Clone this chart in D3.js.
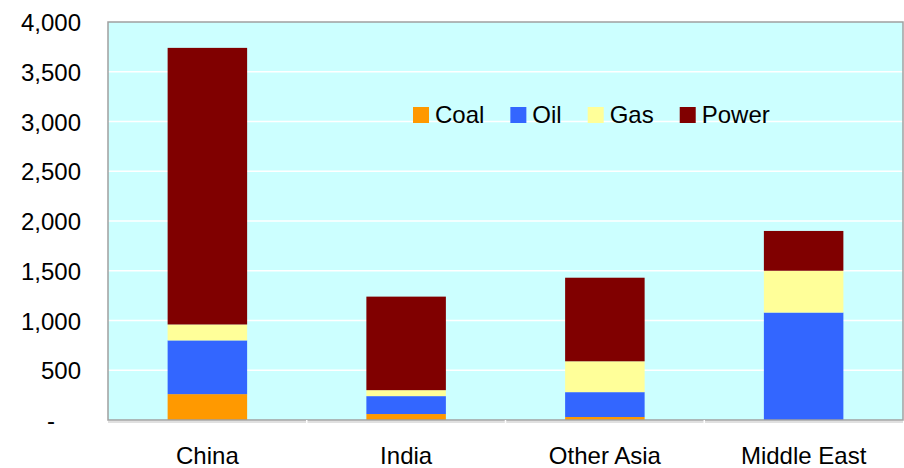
<!DOCTYPE html>
<html>
<head>
<meta charset="utf-8">
<script src="https://cdn.jsdelivr.net/npm/d3@7"></script>
<style>
  body { margin: 0; background: #fff; }
  text { font-family: Arial, "Liberation Sans", sans-serif; fill: #000; }
</style>
</head>
<body>
<div id="chart"></div>
<script>
// data
var regions = ["China", "India", "Other Asia", "Middle East"];
var fuels = ["Coal", "Oil", "Gas", "Power"];
var coal = [260, 60, 30, 0];
var oil = [540, 180, 250, 1080];
var gas = [160, 60, 310, 420];
var power = [2780, 940, 840, 400];
var yTicks = [0, 500, 1000, 1500, 2000, 2500, 3000, 3500, 4000];
var colors = ["#FF9900", "#3366FF", "#FFFF99", "#800000"];

var rows = regions.map(function (r, i) {
  return { region: r, Coal: coal[i], Oil: oil[i], Gas: gas[i], Power: power[i] };
});

// dimensions
var W = 904, H = 468;
var margin = { top: 22, right: 1, bottom: 48, left: 108 };
var width = W - margin.left - margin.right;
var height = H - margin.top - margin.bottom;

var svg = d3.select("#chart")
  .append("svg")
    .attr("width", W)
    .attr("height", H);

var g = svg.append("g")
  .attr("transform", "translate(" + margin.left + "," + margin.top + ")");

var x = d3.scaleBand()
  .domain(regions)
  .range([0, width])
  .paddingInner(0.6)
  .paddingOuter(0.3);

var y = d3.scaleLinear()
  .domain([0, 4000])
  .range([height, 0]);

// plot background
g.append("rect")
  .attr("width", width)
  .attr("height", height)
  .attr("fill", "#CCFFFF");

// gridlines
g.append("g")
  .selectAll("line")
  .data(yTicks.slice(1, -1))
  .enter().append("line")
    .attr("x1", 0)
    .attr("x2", width)
    .attr("y1", function (d) { return y(d); })
    .attr("y2", function (d) { return y(d); })
    .attr("stroke", "#fff")
    .attr("stroke-width", 1.3);

// stacked bars
var stack = d3.stack().keys(fuels);
var series = stack(rows);

g.append("g")
  .selectAll("g")
  .data(series)
  .enter().append("g")
    .attr("fill", function (d, i) { return colors[i]; })
  .selectAll("rect")
  .data(function (d) { return d; })
  .enter().append("rect")
    .attr("x", function (d) { return x(d.data.region); })
    .attr("y", function (d) { return y(d[1]); })
    .attr("width", x.bandwidth())
    .attr("height", function (d) { return y(d[0]) - y(d[1]); });

// frame
g.append("rect")
  .attr("width", width)
  .attr("height", height)
  .attr("fill", "none")
  .attr("stroke", "#a0a0a0")
  .attr("stroke-width", 1.5);
g.append("line")
  .attr("x1", 0).attr("x2", width)
  .attr("y1", height + 2).attr("y2", height + 2)
  .attr("stroke", "#e0e0e0")
  .attr("stroke-width", 2);

// y axis
var yAxis = g.append("g")
  .call(d3.axisLeft(y)
    .tickValues(yTicks)
    .tickSize(0)
    .tickPadding(27)
    .tickFormat(function (d) { return d === 0 ? "-" : d3.format(",")(d); }));
yAxis.select(".domain").remove();
yAxis.selectAll("text")
  .style("font-size", "24px")
  .attr("dy", "0.36em");
yAxis.selectAll(".tick")
  .filter(function (d) { return d === 0; })
  .select("text")
  .attr("x", -53);

// x axis
var xAxis = g.append("g")
  .attr("transform", "translate(0," + height + ")")
  .call(d3.axisBottom(x).tickSize(0).tickPadding(27));
xAxis.select(".domain").remove();
xAxis.selectAll("text")
  .style("font-size", "24px")
  .attr("dy", "0.71em");

// small boundary ticks
g.append("g")
  .selectAll("line")
  .data(regions.slice(1))
  .enter().append("line")
    .attr("x1", function (d) { return x(d) - x.step() * x.paddingInner() / 2; })
    .attr("x2", function (d) { return x(d) - x.step() * x.paddingInner() / 2; })
    .attr("y1", height)
    .attr("y2", height + 3)
    .attr("stroke", "#fff")
    .attr("stroke-width", 1.5);

// legend
var legend = g.append("g")
  .attr("transform", "translate(305,85)");
var lx = 0;
fuels.forEach(function (f, i) {
  var item = legend.append("g").attr("transform", "translate(" + lx + ",0)");
  item.append("rect")
    .attr("width", 16)
    .attr("height", 16)
    .attr("fill", colors[i]);
  var t = item.append("text")
    .attr("x", 22)
    .attr("y", 16)
    .style("font-size", "24px")
    .text(f);
  lx += 22 + t.node().getComputedTextLength() + 26;
});
</script>
</body>
</html>
